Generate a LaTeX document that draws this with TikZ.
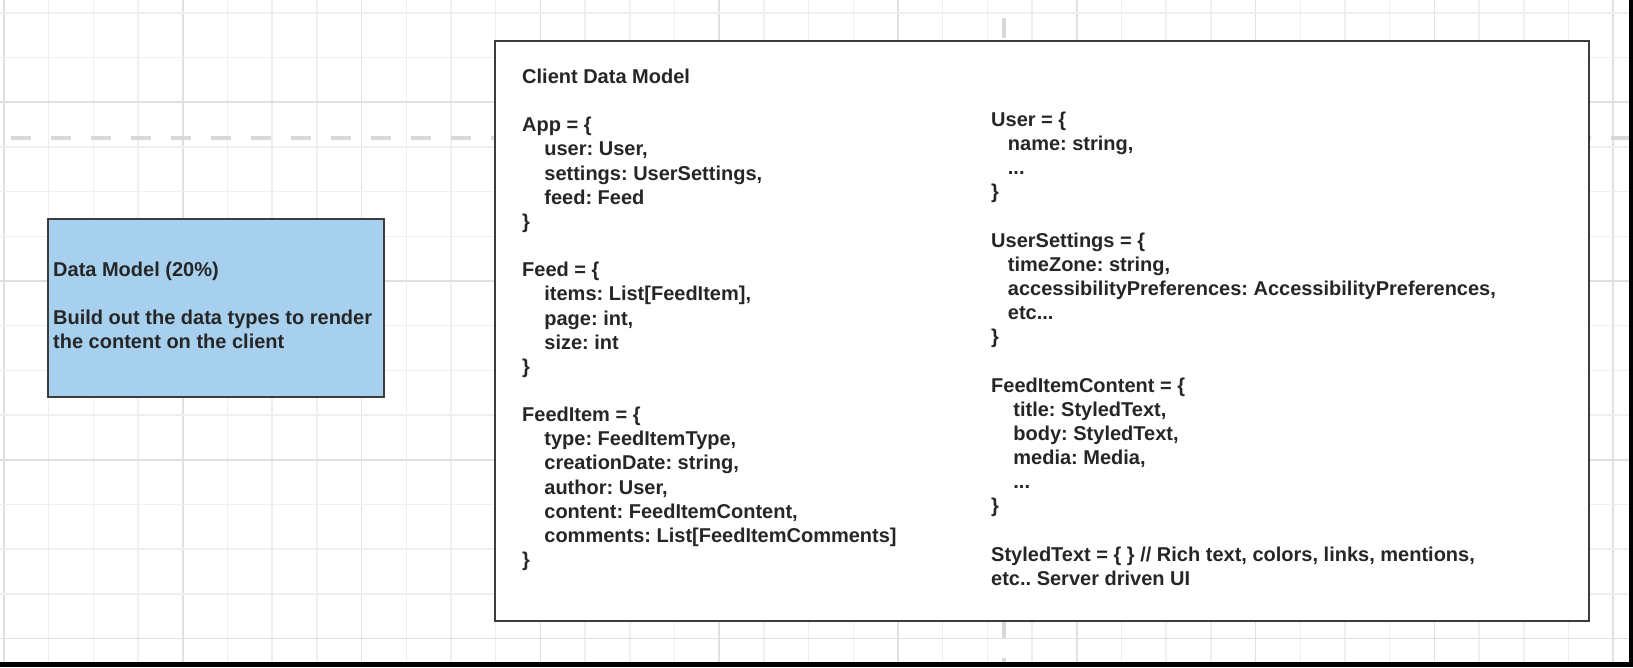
\documentclass[tikz,border=0pt]{standalone}
\usepackage{fontspec}
\setmainfont{Liberation Sans}
\frenchspacing
\definecolor{gridminor}{HTML}{EFEFEF}
\definecolor{gridmajor}{HTML}{E0E0E0}
\definecolor{guide}{HTML}{D8D8D8}
\definecolor{boxline}{HTML}{3C3C3C}
\definecolor{bluefill}{HTML}{A7D0EF}
\definecolor{ink}{HTML}{262626}
\newcommand\indfour{\hspace*{22.2pt}}
\newcommand\indthree{\hspace*{16.7pt}}
\tikzset{
  gridminorline/.style={draw=gridminor, line width=1.5pt},
  gridmajorline/.style={draw=gridmajor, line width=1.5pt},
  guideline/.style={draw=guide, line width=4.5pt, dash pattern=on 20pt off 20pt},
  panel/.style={draw=boxline, line width=2.5pt, fill=white, inner sep=0pt},
  notebox/.style={draw=boxline, line width=2.5pt, fill=bluefill, inner sep=0pt},
  codetext/.style={text=ink, align=left, inner sep=0pt,
    font=\fontsize{20}{24.15}\selectfont\bfseries\frenchspacing},
}
\begin{document}
\begin{tikzpicture}[x=1pt, y=-1pt]
\useasboundingbox (0,0) rectangle (1633,667);
\fill[white] (0,0) rectangle (1633,667);
% grid
\foreach \k in {0,...,36}{
  \pgfmathtruncatemacro\m{mod(\k,4)}
  \ifnum\m=0 \def\gs{gridmajorline}\else\def\gs{gridminorline}\fi
  \draw[\gs] ({4+44.7*\k},0) -- ({4+44.7*\k},667);
}
\foreach \k in {0,...,14}{
  \pgfmathtruncatemacro\m{mod(\k,4)}
  \ifnum\m=2 \def\gs{gridmajorline}\else\def\gs{gridminorline}\fi
  \draw[\gs] (0,{12.8+44.7*\k}) -- (1633,{12.8+44.7*\k});
}
% guide lines
\coordinate (hg1) at (11,138);
\coordinate (hg2) at (1633,138);
\coordinate (vg1) at (1004,18);
\coordinate (vg2) at (1004,667);
\draw[guideline] (hg1) -- (hg2);
\draw[guideline] (vg1) -- (vg2);
% boxes
\node[notebox, minimum width=336pt, minimum height=178pt] (dm) at (216,308) {};
\node[codetext, anchor=base west] (dmtext) at (53,348.85)
  {Data Model (20\%)\\[24.15pt]Build out the data types to render\\the content on the client};
\node[panel, minimum width=1094pt, minimum height=580pt] (model) at (1042,331) {};
\node[codetext, anchor=base west] (leftcol) at (522,566.5) {Client Data Model\\[24.15pt]
App = \{\\
\indfour user: User,\\
\indfour settings: UserSettings,\\
\indfour feed: Feed\\
\}\\[24.15pt]
Feed = \{\\
\indfour items: List[FeedItem],\\
\indfour page: int,\\
\indfour size: int\\
\}\\[24.15pt]
FeedItem = \{\\
\indfour type: FeedItemType,\\
\indfour creationDate: string,\\
\indfour author: User,\\
\indfour content: FeedItemContent,\\
\indfour comments: List[FeedItemComments]\\
\}};
\node[codetext, anchor=base west] (rightcol) at (991,585.2) {User = \{\\
\indthree name: string,\\
\indthree ...\\
\}\\[24.15pt]
UserSettings = \{\\
\indthree timeZone: string,\\
\indthree accessibilityPreferences: AccessibilityPreferences,\\
\indthree etc...\\
\}\\[24.15pt]
FeedItemContent = \{\\
\indfour title: StyledText,\\
\indfour body: StyledText,\\
\indfour media: Media,\\
\indfour ...\\
\}\\[24.15pt]
StyledText = \{ \} // Rich text, colors, links, mentions,\\
etc.. Server driven UI};
% screen edges
\fill[black] (0,662) rectangle (1633,667);
\fill[black] (1629,0) rectangle (1633,667);
\end{tikzpicture}
\end{document}
